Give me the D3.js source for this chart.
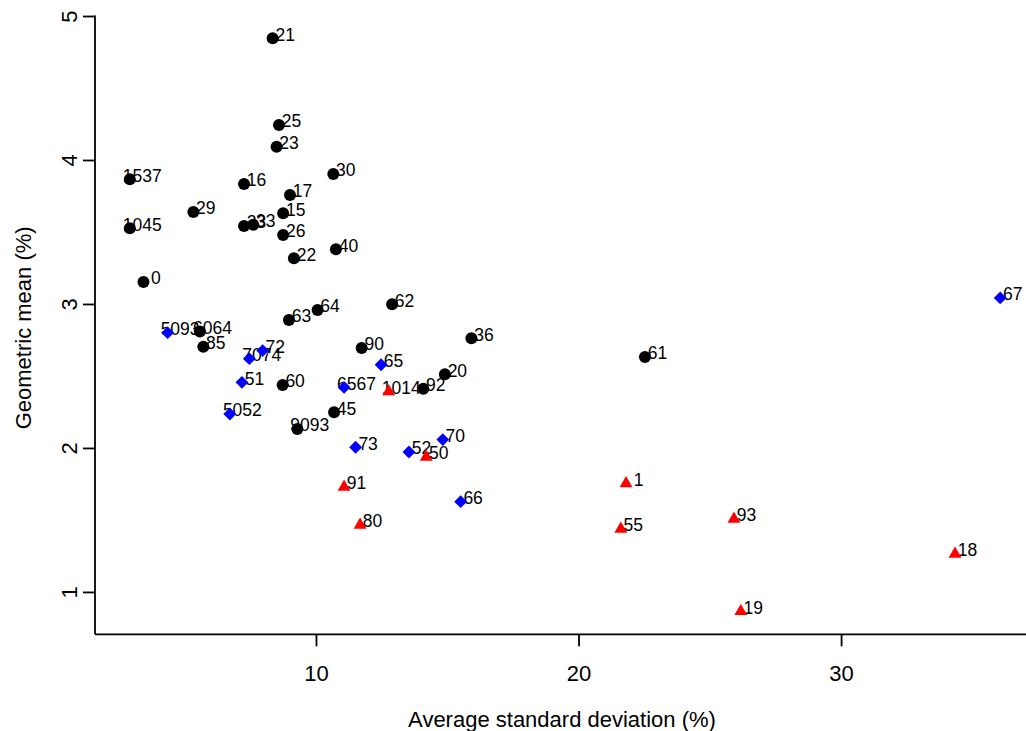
<!DOCTYPE html>
<html>
<head>
<meta charset="utf-8">
<script src="https://cdn.jsdelivr.net/npm/d3@7"></script>
<style>
  html, body { margin: 0; padding: 0; background: #fff; }
  svg { display: block; font-family: "Liberation Sans", Arial, Helvetica, sans-serif; }
</style>
</head>
<body>
<svg id="chart" width="1026" height="731"></svg>
<script>
// ---- data ----
const circleLabels = ["21","25","23","30","1537","16","17","29","15","1045","23","33","26","40","22","0","62","64","63","6064","36","85","90","61","20","92","60","45","9093"];
const circleX = [8.35,8.59,8.50,10.66,2.91,7.26,9.01,5.33,8.75,2.91,7.26,7.61,8.75,10.76,9.16,3.43,12.90,10.06,8.97,5.58,15.92,5.71,11.74,22.53,14.91,14.09,8.73,10.69,9.29];
const circleY = [4.845,4.243,4.092,3.903,3.866,3.833,3.757,3.639,3.630,3.526,3.542,3.551,3.479,3.380,3.317,3.153,2.998,2.958,2.889,2.808,2.762,2.703,2.694,2.632,2.512,2.412,2.438,2.248,2.132];

const diamondLabels = ["67","5093","72","7074","65","51","6567","5052","73","70","52","66"];
const diamondX = [36.06,4.35,7.97,7.46,12.48,7.18,11.07,6.72,11.51,14.83,13.54,15.51];
const diamondY = [3.042,2.801,2.676,2.620,2.578,2.456,2.421,2.236,2.005,2.058,1.972,1.627];

const triangleLabels = ["1014","50","1","55","91","80","93","18","19"];
const triangleX = [12.77,14.20,21.81,21.61,11.07,11.68,25.92,34.34,26.18];
const triangleY = [2.392,1.937,1.753,1.437,1.729,1.465,1.507,1.264,0.865];

const xTicks = [10, 20, 30];
const yTicks = [1, 2, 3, 4, 5];
const xTitle = "Average standard deviation (%)";
const yTitle = "Geometric mean (%)";

// ---- layout ----
const svg = d3.select("#chart");
svg.append("rect").attr("width", 1026).attr("height", 731).attr("fill", "#fff");

const plot = { left: 95, right: 1035, top: 15.4, bottom: 634.3 };

const allX = circleX.concat(diamondX, triangleX);
const allY = circleY.concat(diamondY, triangleY);
function extend(ext) { const d = (ext[1] - ext[0]) * 0.04; return [ext[0] - d, ext[1] + d]; }

const x = d3.scaleLinear().domain(extend(d3.extent(allX))).range([plot.left, plot.right]);
const y = d3.scaleLinear().domain(extend(d3.extent(allY))).range([plot.bottom, plot.top]);

const tickFont = 22, labelFont = 17.5, titleFont = 22;
const lineW = 1.8;

// axes box (bty = "l")
svg.append("line").attr("x1", plot.left).attr("x2", plot.left).attr("y1", plot.top).attr("y2", plot.bottom)
  .attr("stroke", "#000").attr("stroke-width", lineW);
svg.append("line").attr("x1", plot.left).attr("x2", plot.right).attr("y1", plot.bottom).attr("y2", plot.bottom)
  .attr("stroke", "#000").attr("stroke-width", lineW);

// x axis
const xAxis = d3.axisBottom(x).tickValues(xTicks).tickSize(12).tickPadding(0).tickFormat(d3.format("d"));
const gx = svg.append("g").attr("transform", `translate(0,${plot.bottom})`).call(xAxis);
gx.select(".domain").remove();
gx.selectAll(".tick line").attr("stroke", "#000").attr("stroke-width", lineW);
gx.selectAll(".tick text").attr("y", 47).attr("dy", null)
  .attr("font-size", tickFont).attr("font-family", "Liberation Sans, Arial, sans-serif").attr("fill", "#000");

// y axis
const yAxis = d3.axisLeft(y).tickValues(yTicks).tickSize(12).tickFormat(d3.format("d"));
const gy = svg.append("g").attr("transform", `translate(${plot.left},0)`).call(yAxis);
gy.select(".domain").remove();
gy.selectAll(".tick line").attr("stroke", "#000").attr("stroke-width", lineW);
gy.selectAll(".tick text").attr("x", null).attr("dy", null)
  .attr("text-anchor", "middle")
  .attr("transform", "translate(-18,0) rotate(-90)")
  .attr("font-size", tickFont).attr("font-family", "Liberation Sans, Arial, sans-serif").attr("fill", "#000");

// axis titles
svg.append("text").attr("x", (plot.left + plot.right) / 2 - 3).attr("y", 727)
  .attr("text-anchor", "middle").attr("font-size", titleFont).attr("fill", "#000").text(xTitle);
svg.append("text").attr("transform", `translate(31,${(plot.top + plot.bottom) / 2 + 3}) rotate(-90)`)
  .attr("text-anchor", "middle").attr("font-size", titleFont).attr("fill", "#000").text(yTitle);

// point labels (drawn first, markers over them)
const groups = [
  { labels: circleLabels, xs: circleX, ys: circleY },
  { labels: diamondLabels, xs: diamondX, ys: diamondY },
  { labels: triangleLabels, xs: triangleX, ys: triangleY }
];
const labelG = svg.append("g");
groups.forEach(g => {
  labelG.selectAll(null).data(g.labels.map((l, i) => ({ l, x: g.xs[i], y: g.ys[i] })))
    .enter().append("text")
    .attr("x", d => x(d.x) + 12.5).attr("y", d => y(d.y) + 2.3)
    .attr("text-anchor", "middle").attr("font-size", labelFont).attr("fill", "#000")
    .text(d => d.l);
});

// markers
svg.append("g").selectAll("circle")
  .data(circleX.map((v, i) => ({ x: v, y: circleY[i] })))
  .enter().append("circle")
  .attr("cx", d => x(d.x)).attr("cy", d => y(d.y)).attr("r", 6).attr("fill", "#000");

const dh = 6.4;
svg.append("g").selectAll("path")
  .data(diamondX.map((v, i) => ({ x: v, y: diamondY[i] })))
  .enter().append("path")
  .attr("d", d => { const cx = x(d.x), cy = y(d.y);
    return `M${cx},${cy - dh}L${cx + dh},${cy}L${cx},${cy + dh}L${cx - dh},${cy}Z`; })
  .attr("fill", "#0000FF");

const tri = d3.symbol().type(d3.symbolTriangle).size(72);
svg.append("g").selectAll("path")
  .data(triangleX.map((v, i) => ({ x: v, y: triangleY[i] })))
  .enter().append("path")
  .attr("transform", d => `translate(${x(d.x)},${y(d.y)})`)
  .attr("d", tri)
  .attr("fill", "#FF0000");
</script>
</body>
</html>
